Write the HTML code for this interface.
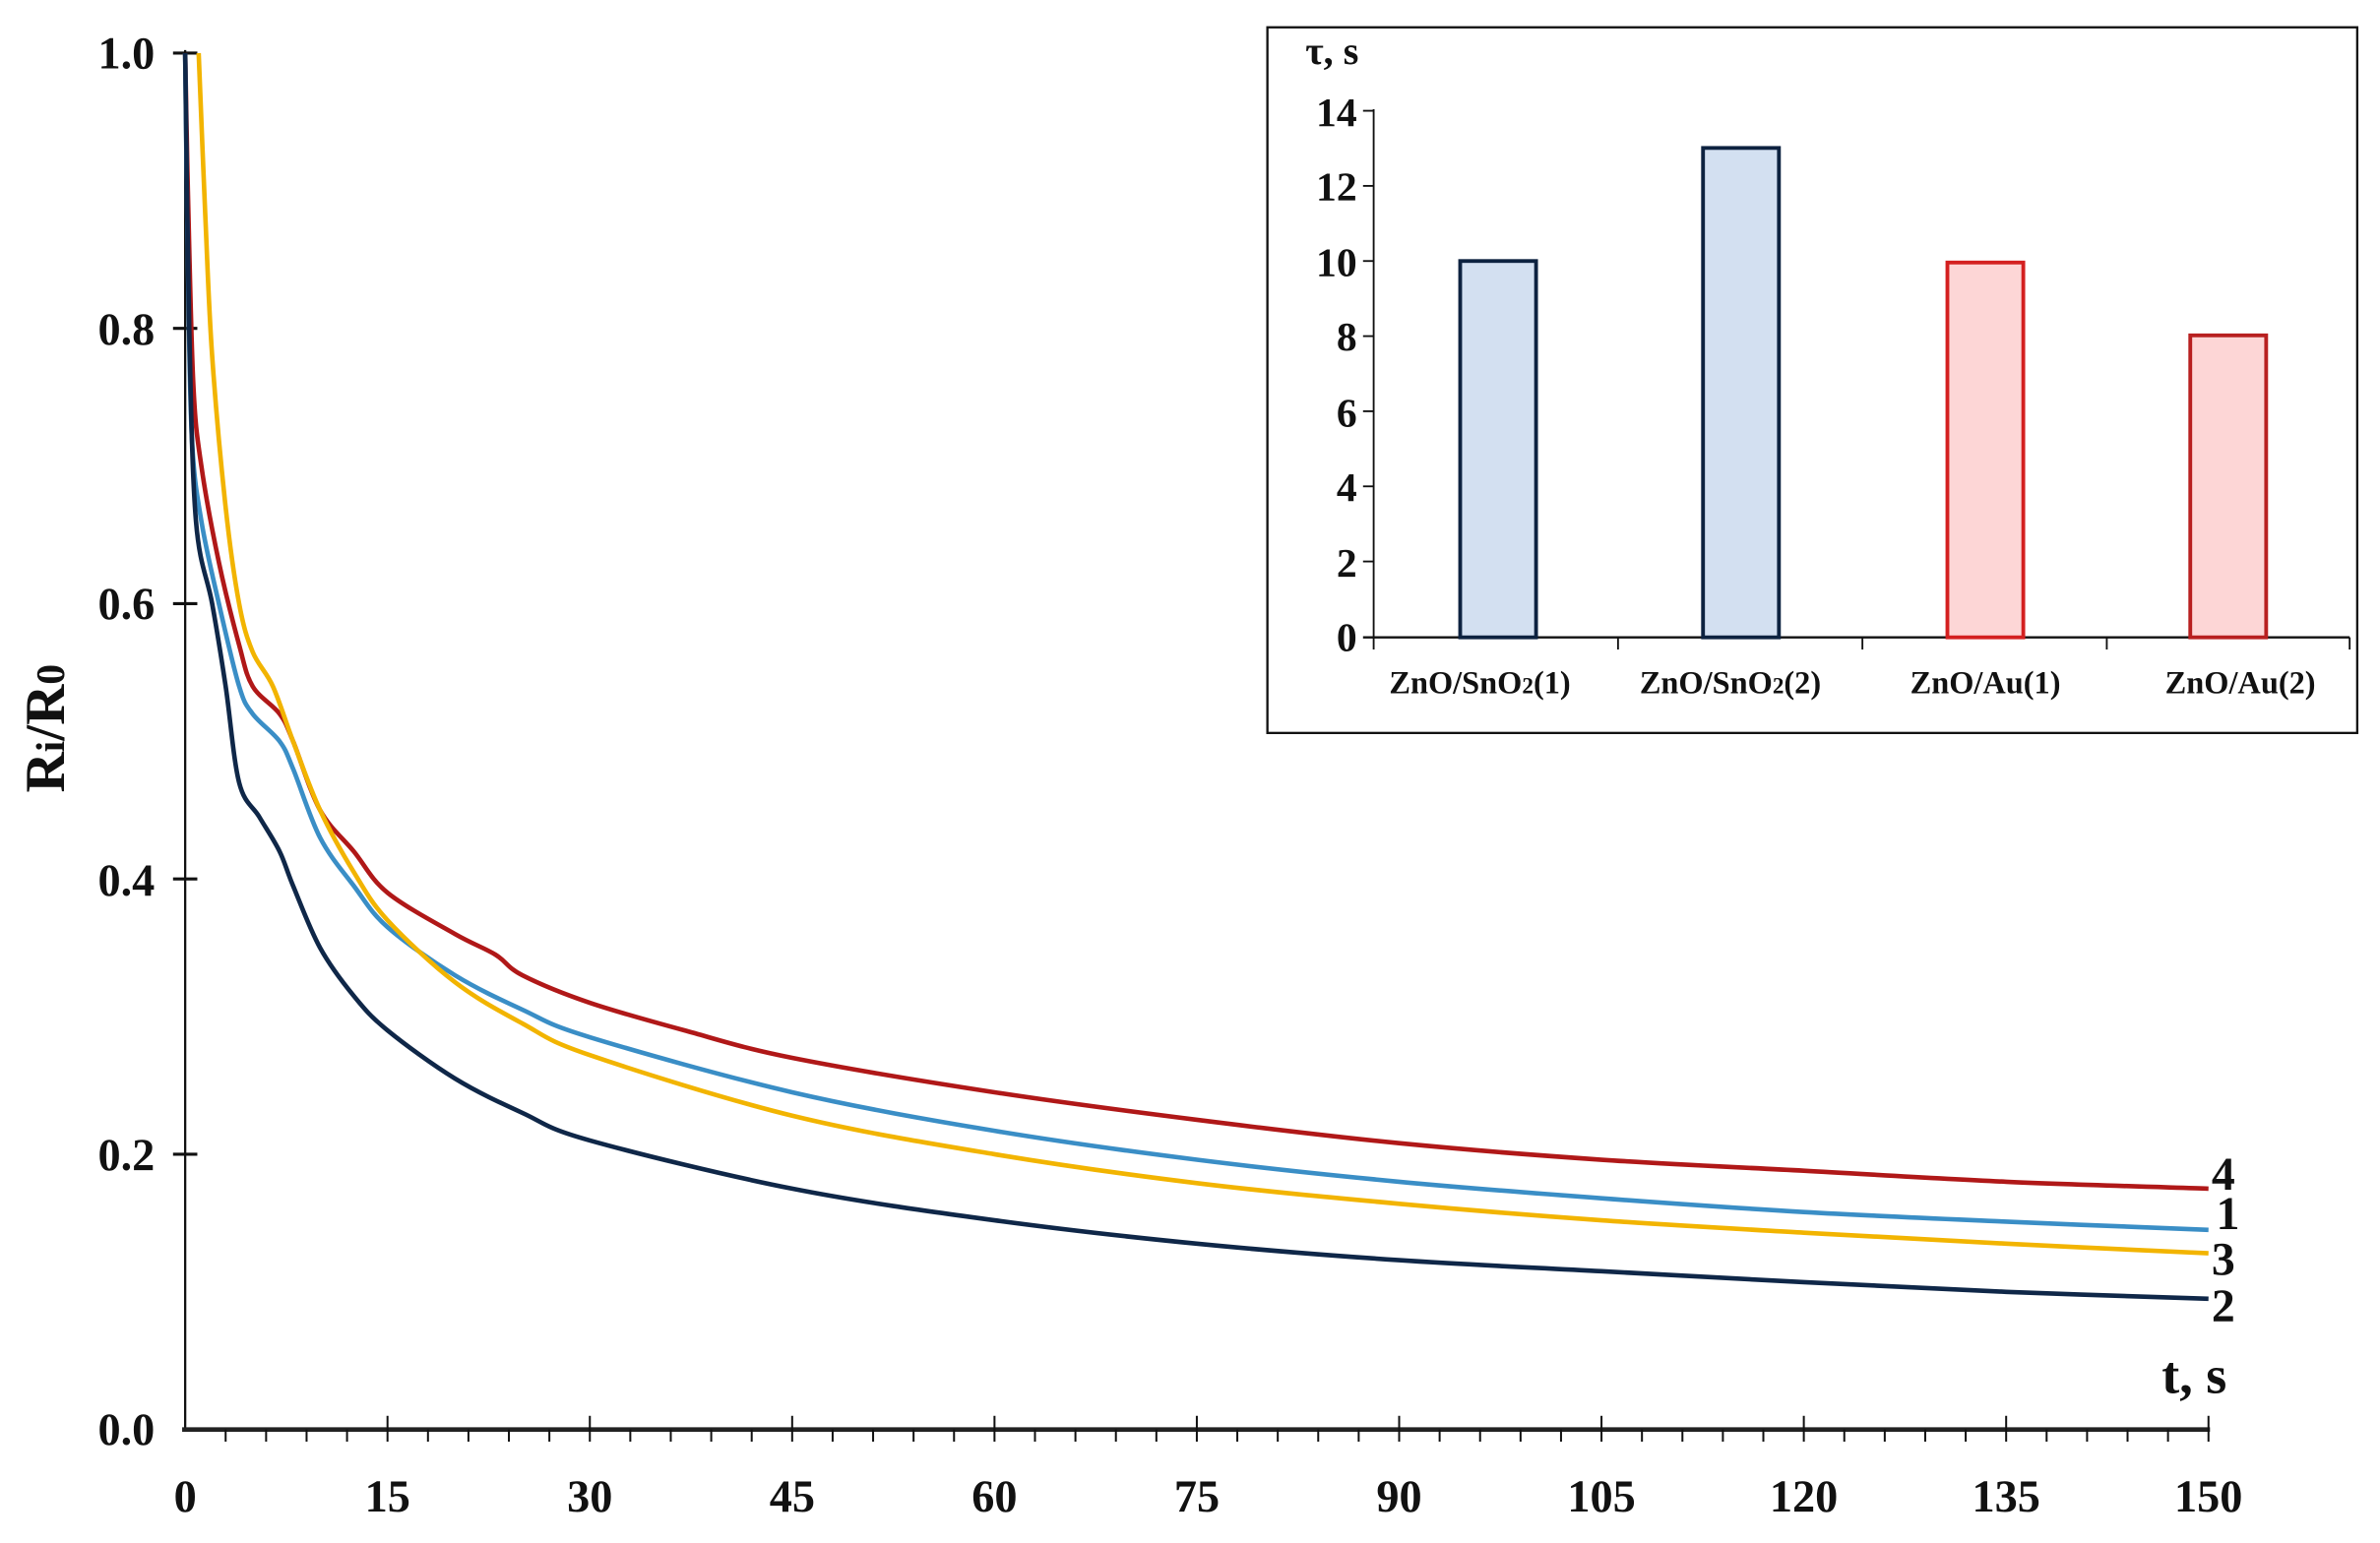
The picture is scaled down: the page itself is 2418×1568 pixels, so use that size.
<!DOCTYPE html>
<html><head><meta charset="utf-8"><style>
html,body{margin:0;padding:0;background:#fff}
svg{display:block}
text{font-family:"Liberation Serif",serif;font-weight:bold;fill:#111}
</style></head><body>
<svg id="s" width="2418" height="1568" viewBox="0 0 1568 1016.8" xmlns="http://www.w3.org/2000/svg">
<rect width="1568" height="1017" fill="#fff"/>
<line x1="122" y1="33" x2="122" y2="943" stroke="#111" stroke-width="1.5"/>
<line x1="120" y1="942" x2="1456" y2="942" stroke="#222" stroke-width="3"/>
<g id="yt" stroke="#111" stroke-width="2"></g>
<g id="xt" stroke="#111" stroke-width="1.3"></g>
<g font-size="30" text-anchor="end">
<text x="102" y="45">1.0</text><text x="102" y="227">0.8</text><text x="102" y="408">0.6</text>
<text x="102" y="590">0.4</text><text x="102" y="771">0.2</text><text x="102" y="952">0.0</text>
</g>
<g id="xl" font-size="30" text-anchor="middle"></g>
<text transform="translate(42,480) rotate(-90)" font-size="37" text-anchor="middle">R<tspan font-size="27">i</tspan>/R<tspan font-size="27">0</tspan></text>
<text x="1467" y="918" font-size="35" text-anchor="end">t, s</text>
<g font-size="31">
<text x="1457" y="784">4</text><text x="1460" y="810">1</text><text x="1457" y="840">3</text><text x="1457" y="871">2</text>
</g>
<g id="curves" fill="none" stroke-width="3" stroke-linejoin="round"></g>

<rect x="835" y="18" width="718" height="465" fill="#fff" stroke="#111" stroke-width="1.5"/>
<line x1="905" y1="72" x2="905" y2="428" stroke="#111" stroke-width="1.2"/>
<line x1="898" y1="420" x2="1548" y2="420" stroke="#111" stroke-width="1.5"/>
<g stroke="#111" stroke-width="1.2">
<line x1="898" y1="73" x2="905" y2="73"/><line x1="898" y1="122.5" x2="905" y2="122.5"/><line x1="898" y1="172" x2="905" y2="172"/>
<line x1="898" y1="221.5" x2="905" y2="221.5"/><line x1="898" y1="271" x2="905" y2="271"/><line x1="898" y1="320.5" x2="905" y2="320.5"/>
<line x1="898" y1="370" x2="905" y2="370"/>
<line x1="1066" y1="420" x2="1066" y2="428"/><line x1="1227" y1="420" x2="1227" y2="428"/><line x1="1388" y1="420" x2="1388" y2="428"/><line x1="1548" y1="420" x2="1548" y2="428"/>
</g>
<g font-size="27" text-anchor="end">
<text x="894" y="83">14</text><text x="894" y="132">12</text><text x="894" y="182">10</text><text x="894" y="231">8</text>
<text x="894" y="281">6</text><text x="894" y="330">4</text><text x="894" y="380">2</text><text x="894" y="429">0</text>
</g>
<text x="860" y="42" font-size="26">τ, s</text>
<rect x="962" y="172" width="50" height="248" fill="#d3e0f1" stroke="#0d2240" stroke-width="2.5"/>
<rect x="1122" y="97.5" width="50" height="322.5" fill="#d3e0f1" stroke="#0d2240" stroke-width="2.5"/>
<rect x="1283" y="173" width="50" height="247" fill="#fdd6d6" stroke="#d42020" stroke-width="2.5"/>
<rect x="1443" y="221" width="50" height="199" fill="#fdd6d6" stroke="#b82020" stroke-width="2.5"/>
<g font-size="21" text-anchor="middle">
<text x="975" y="457">ZnO/SnO<tspan font-size="15">2</tspan>(1)</text>
<text x="1140" y="457">ZnO/SnO<tspan font-size="15">2</tspan>(2)</text>
<text x="1308" y="457">ZnO/Au(1)</text>
<text x="1476" y="457">ZnO/Au(2)</text>
</g>
</svg>
<script>
var X=function(t){return 122+t*(1333/150)}, Y=function(v){return 942-v*907};
var yt=document.getElementById('yt');
[0.2,0.4,0.6,0.8,1.0].forEach(function(v){yt.innerHTML+='<line x1="114" y1="'+Y(v)+'" x2="130" y2="'+Y(v)+'"/>';});
var xt=document.getElementById('xt'),xl=document.getElementById('xl');
for(var t=3;t<=150;t+=3){var maj=t%15==0;xt.innerHTML+='<line x1="'+X(t)+'" y1="'+(maj?933:942)+'" x2="'+X(t)+'" y2="950"/>';}
for(var t=0;t<=150;t+=15){xl.innerHTML+='<text x="'+X(t)+'" y="996">'+t+'</text>';}
var D={
'#b01818':[[0,1],[0.2,0.9],[0.6,0.76],[1.2,0.7],[2.5,0.63],[4,0.57],[5,0.54],[7,0.52],[8,0.5],[10,0.45],[12.5,0.42],[15,0.39],[20,0.36],[23,0.345],[25,0.33],[30,0.31],[37,0.29],[45,0.27],[60,0.245],[75,0.225],[90,0.208],[105,0.196],[120,0.188],[135,0.18],[150,0.175]],
'#3a8ec6':[[0,1],[0.2,0.85],[0.5,0.72],[1.2,0.66],[2.5,0.6],[4,0.54],[5,0.52],[7,0.5],[8,0.48],[10,0.43],[12.5,0.395],[15,0.365],[20,0.33],[25,0.305],[30,0.285],[45,0.245],[60,0.217],[75,0.196],[90,0.18],[105,0.168],[120,0.158],[135,0.151],[150,0.145]],
'#f2b400':[[1.0,1],[1.5,0.88],[2,0.78],[3,0.67],[4,0.6],[5,0.565],[6.5,0.54],[8,0.5],[10,0.45],[12.5,0.405],[15,0.37],[20,0.325],[25,0.295],[30,0.272],[45,0.228],[60,0.2],[75,0.179],[90,0.164],[105,0.152],[120,0.143],[135,0.135],[150,0.128]],
'#0f2748':[[0,1],[0.3,0.8],[0.8,0.66],[2,0.6],[3,0.54],[4,0.47],[5.5,0.445],[7,0.42],[8,0.395],[10,0.35],[12.5,0.315],[15,0.29],[20,0.255],[25,0.23],[30,0.21],[45,0.175],[60,0.152],[75,0.135],[90,0.123],[105,0.115],[120,0.107],[135,0.1],[150,0.095]]};
var g=document.getElementById('curves'),h='';
for(var c in D){var p=D[c].map(function(a){return [X(a[0]),Y(a[1])]});
var d='M'+p[0][0]+','+p[0][1];
for(var i=0;i<p.length-1;i++){var p0=p[i-1]||p[i],p1=p[i],p2=p[i+1],p3=p[i+2]||p2;
d+='C'+(p1[0]+(p2[0]-p0[0])/6)+','+(p1[1]+(p2[1]-p0[1])/6)+' '+(p2[0]-(p3[0]-p1[0])/6)+','+(p2[1]-(p3[1]-p1[1])/6)+' '+p2[0]+','+p2[1];}
h+='<path d="'+d+'" stroke="'+c+'"/>';}
g.innerHTML=h;
</script>
</body></html>
